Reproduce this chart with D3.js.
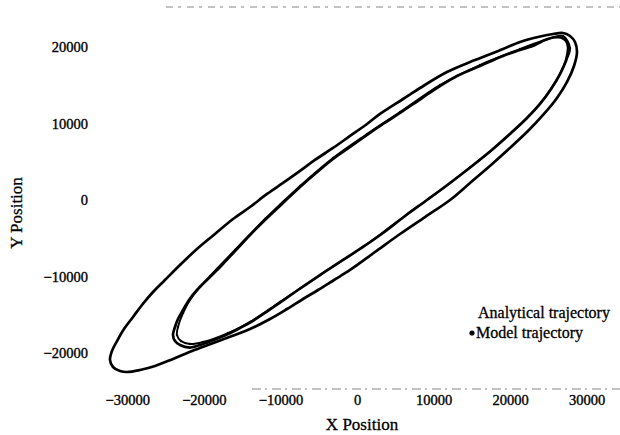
<!DOCTYPE html>
<html><head><meta charset="utf-8">
<script src="https://cdn.jsdelivr.net/npm/d3@7"></script>
<style>body{margin:0;background:#fff}svg{display:block}</style>
</head><body><svg id="c" width="620" height="435"></svg>
<script>
const xTicks = [-30000, -20000, -10000, 0, 10000, 20000, 30000];
const yTicks = [-20000, -10000, 0, 10000, 20000];
const seriesNames = ["Analytical trajectory", "Model trajectory"];

// Analytical trajectory, first (wide) revolution
const outerX = [28730, 28470, 27820, 26900, 25600, 23640, 21290, 19070, 15410, 11750, 8230, 6010, 3000, 1310, -910, -3130, -5490, -7440, -9660, -11750, -13970, -16190, -18550, -20900, -23120, -25080, -26640, -28080, -29250, -30430, -31340, -32000, -32260, -31870, -30950, -30040, -28340, -26380, -24030, -21550, -18940, -16330, -13970, -11360, -9140, -7050, -5090, -3000, -910, 2350, 5620, 8880, 12150, 14760, 17500, 20110, 22460, 24420, 26120, 27430, 28340];
const outerY = [19370, 20680, 21470, 21860, 21730, 21340, 20680, 19760, 18320, 16750, 14660, 13220, 11260, 9950, 8380, 6810, 5240, 3800, 2230, 790, -920, -2490, -4450, -6410, -8510, -10470, -12040, -13740, -15310, -16890, -18460, -19760, -20940, -21860, -22380, -22510, -22250, -21730, -20810, -19760, -18780, -17800, -16890, -15580, -14270, -12960, -11780, -10470, -9160, -6810, -4450, -2230, 0, 2230, 4580, 6940, 9160, 11260, 13350, 15450, 17540];

// Analytical trajectory, second (narrow) revolution
const innerX = [27560, 27300, 26640, 25600, 24550, 23250, 21290, 19070, 16060, 13060, 10840, 8490, 5620, 3400, 1310, -910, -3130, -5350, -7440, -9660, -12020, -13970, -15930, -17630, -19200, -20900, -21940, -22720, -23380, -23770, -24030, -23770, -23120, -21810, -20110, -18550, -16850, -15280, -13970, -12020, -10060, -7710, -4830, -1830, 780, 3400, 6270, 9140, 12150, 15020, 17760, 20110, 22200, 23900, 25340, 26510, 27300];
const innerY = [20030, 20810, 21270, 21270, 20940, 20290, 19630, 18850, 17540, 16230, 14920, 13350, 11390, 9950, 8510, 6940, 5370, 3530, 1700, -390, -2620, -4580, -6680, -8510, -10080, -11780, -13090, -14400, -15580, -16620, -17670, -18460, -18980, -19310, -18850, -18260, -17540, -16750, -16030, -14790, -13420, -11780, -9820, -7850, -6150, -4320, -2090, 0, 2230, 4450, 6680, 8770, 10730, 12570, 14530, 16490, 18320];

// Model trajectory
const modelX = [27820, 26900, 24940, 21290, 16060, 10840, 5620, 1310, -3130, -7440, -12020, -15930, -19200, -21550, -22720, -23380, -23510, -22990, -21810, -20110, -16850, -13970, -10060, -4830, 780, 6270, 12150, 17760, 22200, 25340, 27300];
const modelY = [19900, 21470, 21070, 19760, 17670, 15050, 11520, 8640, 5500, 1830, -2490, -6540, -9950, -12700, -14790, -16620, -17670, -18460, -18850, -18590, -17410, -15970, -13350, -9820, -6150, -2090, 2230, 6680, 10730, 14530, 18190];

const svg = d3.select("#c");
const x = d3.scaleLinear().domain([-35000, 35000]).range([89, 625]);
const y = d3.scaleLinear().domain([-25000, 25000]).range([391, 9]);
const serif = "'Liberation Serif','Times New Roman',serif";

// faint scanned frame lines
svg.append("line").attr("x1", 166).attr("x2", 620).attr("y1", 7).attr("y2", 7)
  .attr("stroke", "#555").attr("stroke-width", 1).attr("stroke-dasharray", "7,5,3,6").attr("opacity", 0.7);
svg.append("line").attr("x1", 252).attr("x2", 620).attr("y1", 389).attr("y2", 389)
  .attr("stroke", "#555").attr("stroke-width", 1).attr("stroke-dasharray", "9,4,2,5").attr("opacity", 0.7);

// axes
const gx = svg.append("g").attr("transform", `translate(0,${y(-25000)})`)
  .call(d3.axisBottom(x).tickValues(xTicks).tickSize(0).tickPadding(4).tickFormat(d3.format("d")));
gx.select(".domain").remove();
gx.selectAll("text").attr("font-family", serif).attr("font-size", 14.5).attr("fill", "#000")
  .attr("stroke", "#000").attr("stroke-width", 0.35);

const gy = svg.append("g").attr("transform", `translate(${x(-35000)},0)`)
  .call(d3.axisLeft(y).tickValues(yTicks).tickSize(0).tickPadding(1).tickFormat(d3.format("d")));
gy.select(".domain").remove();
gy.selectAll("text").attr("font-family", serif).attr("font-size", 14.5).attr("fill", "#000")
  .attr("stroke", "#000").attr("stroke-width", 0.35);

// titles
svg.append("text").attr("x", 362).attr("y", 430).attr("text-anchor", "middle")
  .attr("font-family", serif).attr("font-size", 17).attr("stroke", "#000").attr("stroke-width", 0.3)
  .text("X Position");
svg.append("text").attr("transform", "translate(22,213) rotate(-90)").attr("text-anchor", "middle")
  .attr("font-family", serif).attr("font-size", 17).attr("stroke", "#000").attr("stroke-width", 0.3)
  .text("Y Position");

// trajectories
const line = d3.line().x(d => x(d[0])).y(d => y(d[1])).curve(d3.curveCatmullRomClosed.alpha(0.5));
const plot = svg.append("g");
plot.append("path").datum(d3.zip(outerX, outerY)).attr("d", line)
  .attr("fill", "none").attr("stroke", "#000").attr("stroke-width", 2.7).attr("stroke-linejoin", "round");
plot.append("path").datum(d3.zip(innerX, innerY)).attr("d", line)
  .attr("fill", "none").attr("stroke", "#000").attr("stroke-width", 2.7).attr("stroke-linejoin", "round");
const modelPts = d3.zip(modelX, modelY);
plot.append("path").datum(modelPts).attr("d", line)
  .attr("fill", "none").attr("stroke", "#000").attr("stroke-width", 1.9);
plot.selectAll("circle.m").data(modelPts).join("circle").attr("class", "m")
  .attr("cx", d => x(d[0])).attr("cy", d => y(d[1])).attr("r", 1.2).attr("fill", "#000");

// legend
const lg = svg.append("g").attr("font-family", serif).attr("font-size", 16);
lg.append("text").attr("x", 478).attr("y", 318).attr("stroke", "#000").attr("stroke-width", 0.3).text(seriesNames[0]);
lg.append("circle").attr("cx", 472).attr("cy", 333).attr("r", 2.6).attr("fill", "#000");
lg.append("text").attr("x", 476).attr("y", 338).attr("stroke", "#000").attr("stroke-width", 0.3).text(seriesNames[1]);
</script></body></html>
